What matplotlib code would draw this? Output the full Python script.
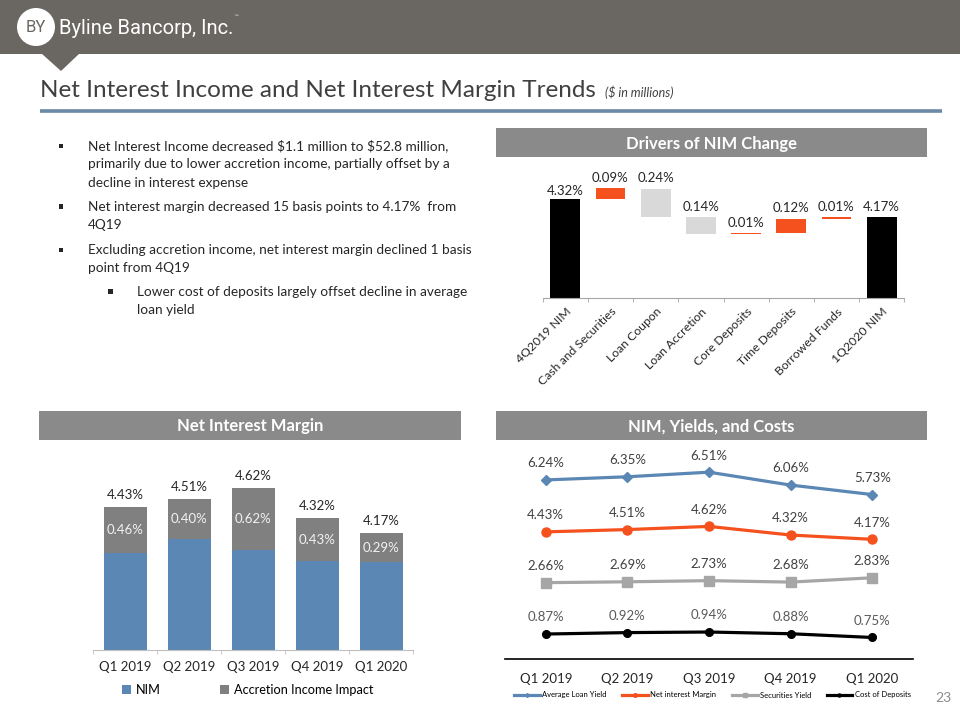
import numpy as np
import matplotlib
matplotlib.use('Agg')
import matplotlib.pyplot as plt
from matplotlib.patches import Rectangle, Circle, Polygon

plt.rcParams['font.family'] = ['Lato', 'DejaVu Sans']

# Данные: драйверы изменения NIM
wf_cats = ['4Q2019 NIM', 'Cash and Securities', 'Loan Coupon', 'Loan Accretion',
           'Core Deposits', 'Time Deposits', 'Borrowed Funds', '1Q2020 NIM']
wf_start = 4.32
wf_deltas = [0.09, -0.24, -0.14, 0.01, 0.12, 0.01]
wf_end = 4.17

# Данные: NIM по кварталам
quarters = ['Q1 2019', 'Q2 2019', 'Q3 2019', 'Q4 2019', 'Q1 2020']
nim_total = [4.43, 4.51, 4.62, 4.32, 4.17]
accretion = [0.46, 0.40, 0.62, 0.43, 0.29]

# Данные: доходности и стоимость
loan_yield = [6.24, 6.35, 6.51, 6.06, 5.73]
nim_line = [4.43, 4.51, 4.62, 4.32, 4.17]
sec_yield = [2.66, 2.69, 2.73, 2.68, 2.83]
cost_dep = [0.87, 0.92, 0.94, 0.88, 0.75]

bullets = [
    [r'Net Interest Income decreased \$1.1 million to \$52.8 million,',
     'primarily due to lower accretion income, partially offset by a',
     'decline in interest expense'],
    ['Net interest margin decreased 15 basis points to 4.17%  from',
     '4Q19'],
    ['Excluding accretion income, net interest margin declined 1 basis',
     'point from 4Q19'],
]
sub_bullet = ['Lower cost of deposits largely offset decline in average',
              'loan yield']

ORANGE = '#F4511E'
LGRAY = '#D9D9D9'
BLUE = '#5B87B4'
HDR = '#8A8A8A'
TXT = '#262626'

W, H = 960, 720
fig = plt.figure(figsize=(9.6, 7.2), dpi=100)

def add_ax(x0, y0, x1, y1):
    return fig.add_axes([x0 / W, 1 - y1 / H, (x1 - x0) / W, (y1 - y0) / H])

# фон в пикселях
bg = fig.add_axes([0, 0, 1, 1])
bg.set_xlim(0, W)
bg.set_ylim(H, 0)
bg.axis('off')

bg.add_patch(Rectangle((0, 0), W, 54, color='#6A6661', lw=0))
bg.add_patch(Polygon([(41, 53), (80, 53), (61, 71)], closed=True, color='#6A6661', lw=0))
bg.add_patch(Circle((36, 27), 19, color='white', lw=0))
bg.text(36, 28, 'BY', color='#6A6661', fontsize=12,
        ha='center', va='center', family=['Roboto', 'DejaVu Sans'])
bg.text(59, 28, 'Byline Bancorp, Inc.', color='white', fontsize=14.5,
        ha='left', va='center', family=['Roboto', 'DejaVu Sans'])
bg.text(235, 17, '™', color='white', fontsize=3.5, ha='left', va='center')

bg.text(40, 97, 'Net Interest Income and Net Interest Margin Trends', fontsize=17.5,
        color='#404040', ha='left', va='baseline')
bg.text(605, 97, r'(\$ in millions)', fontsize=9, color='#404040', style='italic',
        ha='left', va='baseline')
bg.plot([40, 942], [110.5, 110.5], color='#6A8AA8', lw=2.6, solid_capstyle='butt')

# маркированный список
ys = [146, 206.7, 250]
for lines, y0 in zip(bullets, ys):
    bg.add_patch(Rectangle((58.5, y0 - 2.5), 4.5, 4.5, color=TXT, lw=0))
    for i, ln in enumerate(lines):
        bg.text(88, y0 + i * 18.3, ln, fontsize=9.8, color=TXT, ha='left', va='center')
bg.add_patch(Rectangle((108, 291.7 - 2.5), 4.5, 4.5, color=TXT, lw=0))
for i, ln in enumerate(sub_bullet):
    bg.text(137, 291.7 + i * 18.3, ln, fontsize=9.8, color=TXT, ha='left', va='center')

# заголовки разделов
for (x0, y0, x1, y1, t) in [(496, 128, 927, 157, 'Drivers of NIM Change'),
                            (39, 411, 461, 440, 'Net Interest Margin'),
                            (496, 411, 927, 440, 'NIM, Yields, and Costs')]:
    bg.add_patch(Rectangle((x0, y0), x1 - x0, y1 - y0, color=HDR, lw=0))
    bg.text((x0 + x1) / 2, (y0 + y1) / 2 + 1, t, color='white', fontsize=12,
            fontweight='bold', ha='center', va='center')

bg.text(943, 698, '23', color='#8C8C8C', fontsize=10, ha='center', va='center')

# --- Водопад ---
ax1 = add_ax(542.7, 165.7, 904.3, 297.7)
levels = [wf_start]
for d in wf_deltas:
    levels.append(levels[-1] + d)
x = np.arange(len(wf_cats))
ax1.bar(0, wf_start, width=0.66, color='black')
ax1.annotate(f'{wf_start:.2f}%', (0, wf_start), xytext=(0, 2), textcoords='offset points',
             ha='center', va='bottom', fontsize=9.5, color=TXT)
for i, d in enumerate(wf_deltas):
    lo = min(levels[i], levels[i + 1])
    hi = max(levels[i], levels[i + 1])
    col = ORANGE if d > 0 else LGRAY
    ax1.bar(i + 1, hi - lo, bottom=lo, width=0.66, color=col)
    ax1.annotate(f'{abs(d):.2f}%', (i + 1, hi), xytext=(0, 3), textcoords='offset points',
                 ha='center', va='bottom', fontsize=9.5, color=TXT)
ax1.bar(7, wf_end, width=0.66, color='black')
ax1.annotate(f'{wf_end:.2f}%', (7, wf_end), xytext=(0, 3), textcoords='offset points',
             ha='center', va='bottom', fontsize=9.5, color=TXT)
ax1.set_ylim(3.5, 4.6)
ax1.set_xlim(-0.5, 7.5)
ax1.set_yticks([])
for s in ['top', 'right', 'left']:
    ax1.spines[s].set_visible(False)
ax1.spines['bottom'].set_color('#A6A6A6')
ax1.set_xticks(x)
ax1.set_xticklabels(wf_cats, rotation=45, ha='right', rotation_mode='anchor',
                    fontsize=8.8, color=TXT)
ax1.set_xticks(np.arange(-0.5, 8, 1), minor=True)
ax1.tick_params(axis='x', which='major', length=0, pad=6)
ax1.tick_params(axis='x', which='minor', length=3, color='#A6A6A6')
ax1.patch.set_alpha(0)

# --- Столбцы NIM ---
ax2 = add_ax(93.3, 460, 413.3, 650)
core = [t - a for t, a in zip(nim_total, accretion)]
xq = np.arange(len(quarters))
ax2.bar(xq, core, width=0.67, color=BLUE, label='NIM')
ax2.bar(xq, accretion, bottom=core, width=0.67, color='#808080', label='Accretion Income Impact')
for i in range(len(quarters)):
    ax2.annotate(f'{nim_total[i]:.2f}%', (i, nim_total[i]), xytext=(0, 4),
                 textcoords='offset points', ha='center', va='bottom', fontsize=9.5, color=TXT)
    ax2.text(i, core[i] + accretion[i] / 2, f'{accretion[i]:.2f}%', ha='center', va='center',
             fontsize=9.5, color='#F2F2F2')
ax2.set_ylim(3.0, 4.9)
ax2.set_xlim(-0.5, 4.5)
ax2.set_yticks([])
for s in ['top', 'right', 'left']:
    ax2.spines[s].set_visible(False)
ax2.spines['bottom'].set_color('#BFBFBF')
ax2.set_xticks(xq)
ax2.set_xticklabels(quarters, fontsize=9.5, color=TXT)
ax2.set_xticks(np.arange(-0.5, 5, 1), minor=True)
ax2.tick_params(axis='x', which='major', length=0, pad=8)
ax2.tick_params(axis='x', which='minor', length=3, color='#BFBFBF')
ax2.patch.set_alpha(0)
ax2.legend(loc='center left', bbox_to_anchor=(122, 690), bbox_transform=bg.transData,
           ncol=2, frameon=False, fontsize=9.2, handlelength=0.7, handleheight=0.7,
           handletextpad=0.4, columnspacing=4.6, borderaxespad=0, borderpad=0)

# --- Линии ---
ax3 = add_ax(505, 449.5, 913, 659)
series = [(loan_yield, BLUE, 'D', 5, 'Average Loan Yield', '#404040'),
          (nim_line, ORANGE, 'o', 6.5, 'Net interest Margin', '#404040'),
          (sec_yield, '#A6A6A6', 's', 6.5, 'Securities Yield', '#404040'),
          (cost_dep, 'black', 'o', 5.5, 'Cost of Deposits', '#595959')]
for vals, col, mk, ms, lab, tcol in series:
    ax3.plot(xq, vals, color=col, marker=mk, markersize=ms, lw=2.3, label=lab, clip_on=False)
    for i, v in enumerate(vals):
        ax3.annotate(f'{v:.2f}%', (i, v), xytext=(0, 12), textcoords='offset points',
                     ha='center', va='center', fontsize=9.5, color=tcol)
ax3.set_ylim(0, 7.3)
ax3.set_xlim(-0.5, 4.5)
ax3.set_yticks([])
for s in ['top', 'right', 'left']:
    ax3.spines[s].set_visible(False)
ax3.spines['bottom'].set_color('black')
ax3.spines['bottom'].set_linewidth(1.2)
ax3.set_xticks(xq)
ax3.set_xticklabels(quarters, fontsize=9.5, color=TXT)
ax3.tick_params(axis='x', length=0, pad=10)
ax3.patch.set_alpha(0)
ax3.legend(loc='center left', bbox_to_anchor=(514, 695), bbox_transform=bg.transData,
           ncol=4, frameon=False, fontsize=5.5, handlelength=3.4, markerscale=0.4,
           handletextpad=0.3, columnspacing=2.0, borderaxespad=0, borderpad=0)

fig.savefig('out.png', dpi=100)
